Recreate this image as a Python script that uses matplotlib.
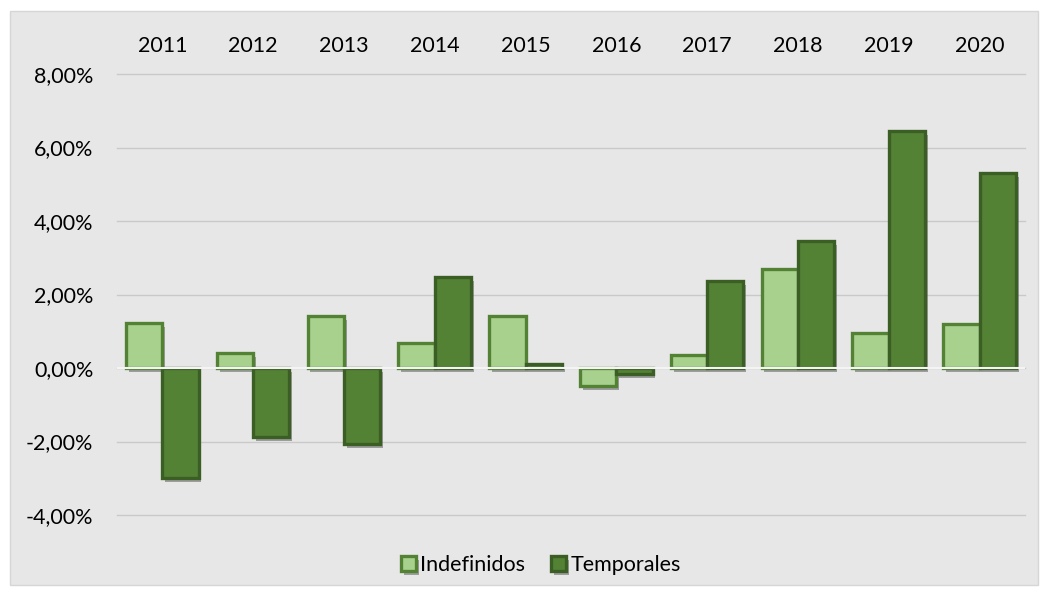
import matplotlib.pyplot as plt
import matplotlib.patheffects as pe
from matplotlib.patches import Rectangle
from matplotlib.ticker import FuncFormatter
import numpy as np

years = ['2011', '2012', '2013', '2014', '2015', '2016', '2017', '2018', '2019', '2020']
indefinidos = [1.22, 0.40, 1.41, 0.68, 1.41, -0.49, 0.35, 2.69, 0.95, 1.20]
temporales = [-3.00, -1.88, -2.07, 2.48, 0.10, -0.15, 2.37, 3.46, 6.45, 5.31]

plt.rcParams['font.family'] = ['Lato', 'DejaVu Sans']

fig = plt.figure(figsize=(10.48, 5.96), dpi=100)
fig.patches.append(Rectangle((10 / 1048, 11 / 596), 1028 / 1048, 574 / 596,
                             transform=fig.transFigure, facecolor='#E7E7E7',
                             edgecolor='#D6D6D6', lw=1, zorder=-10))
ax = fig.add_axes([0.1116, 0.1359, 0.8664, 0.7399])
ax.set_facecolor('none')

x = np.arange(len(years))
w = 0.4
shadow = [pe.SimplePatchShadow(offset=(2, -3), alpha=0.45, shadow_rgbFace='#444444'), pe.Normal()]
b1 = ax.bar(x - w / 2, indefinidos, w, color='#A9D18E', edgecolor='#548235',
            lw=2.4, label='Indefinidos', zorder=3)
b2 = ax.bar(x + w / 2, temporales, w, color='#548235', edgecolor='#3B5E24',
            lw=2.4, label='Temporales', zorder=3)
for b in list(b1) + list(b2):
    b.set_path_effects(shadow)

ax.axhline(0, color='#F4F4F4', lw=1.5, zorder=4)
ax.set_ylim(-4, 8)
ax.set_xlim(-0.5, len(years) - 0.5)
ax.set_yticks(np.arange(-4, 9, 2))
ax.yaxis.set_major_formatter(FuncFormatter(lambda v, p: f'{v:.2f}%'.replace('.', ',')))
ax.grid(axis='y', color='#C9C9C9', lw=1, zorder=0, clip_on=False)
ax.set_axisbelow(True)

ax.set_xticks(x)
ax.set_xticklabels(years)
ax.xaxis.tick_top()
ax.tick_params(axis='both', length=0, labelsize=15.5, colors='#000000')
ax.tick_params(axis='x', pad=13)
ax.tick_params(axis='y', pad=17)
for s in ax.spines.values():
    s.set_visible(False)

fig.legend(loc='center', bbox_to_anchor=(0.516, 0.052), ncol=2, frameon=False,
           fontsize=15.5, handlelength=0.7, handleheight=0.7, handletextpad=0.2,
           columnspacing=1.2)

fig.savefig('out.png', dpi=100)
